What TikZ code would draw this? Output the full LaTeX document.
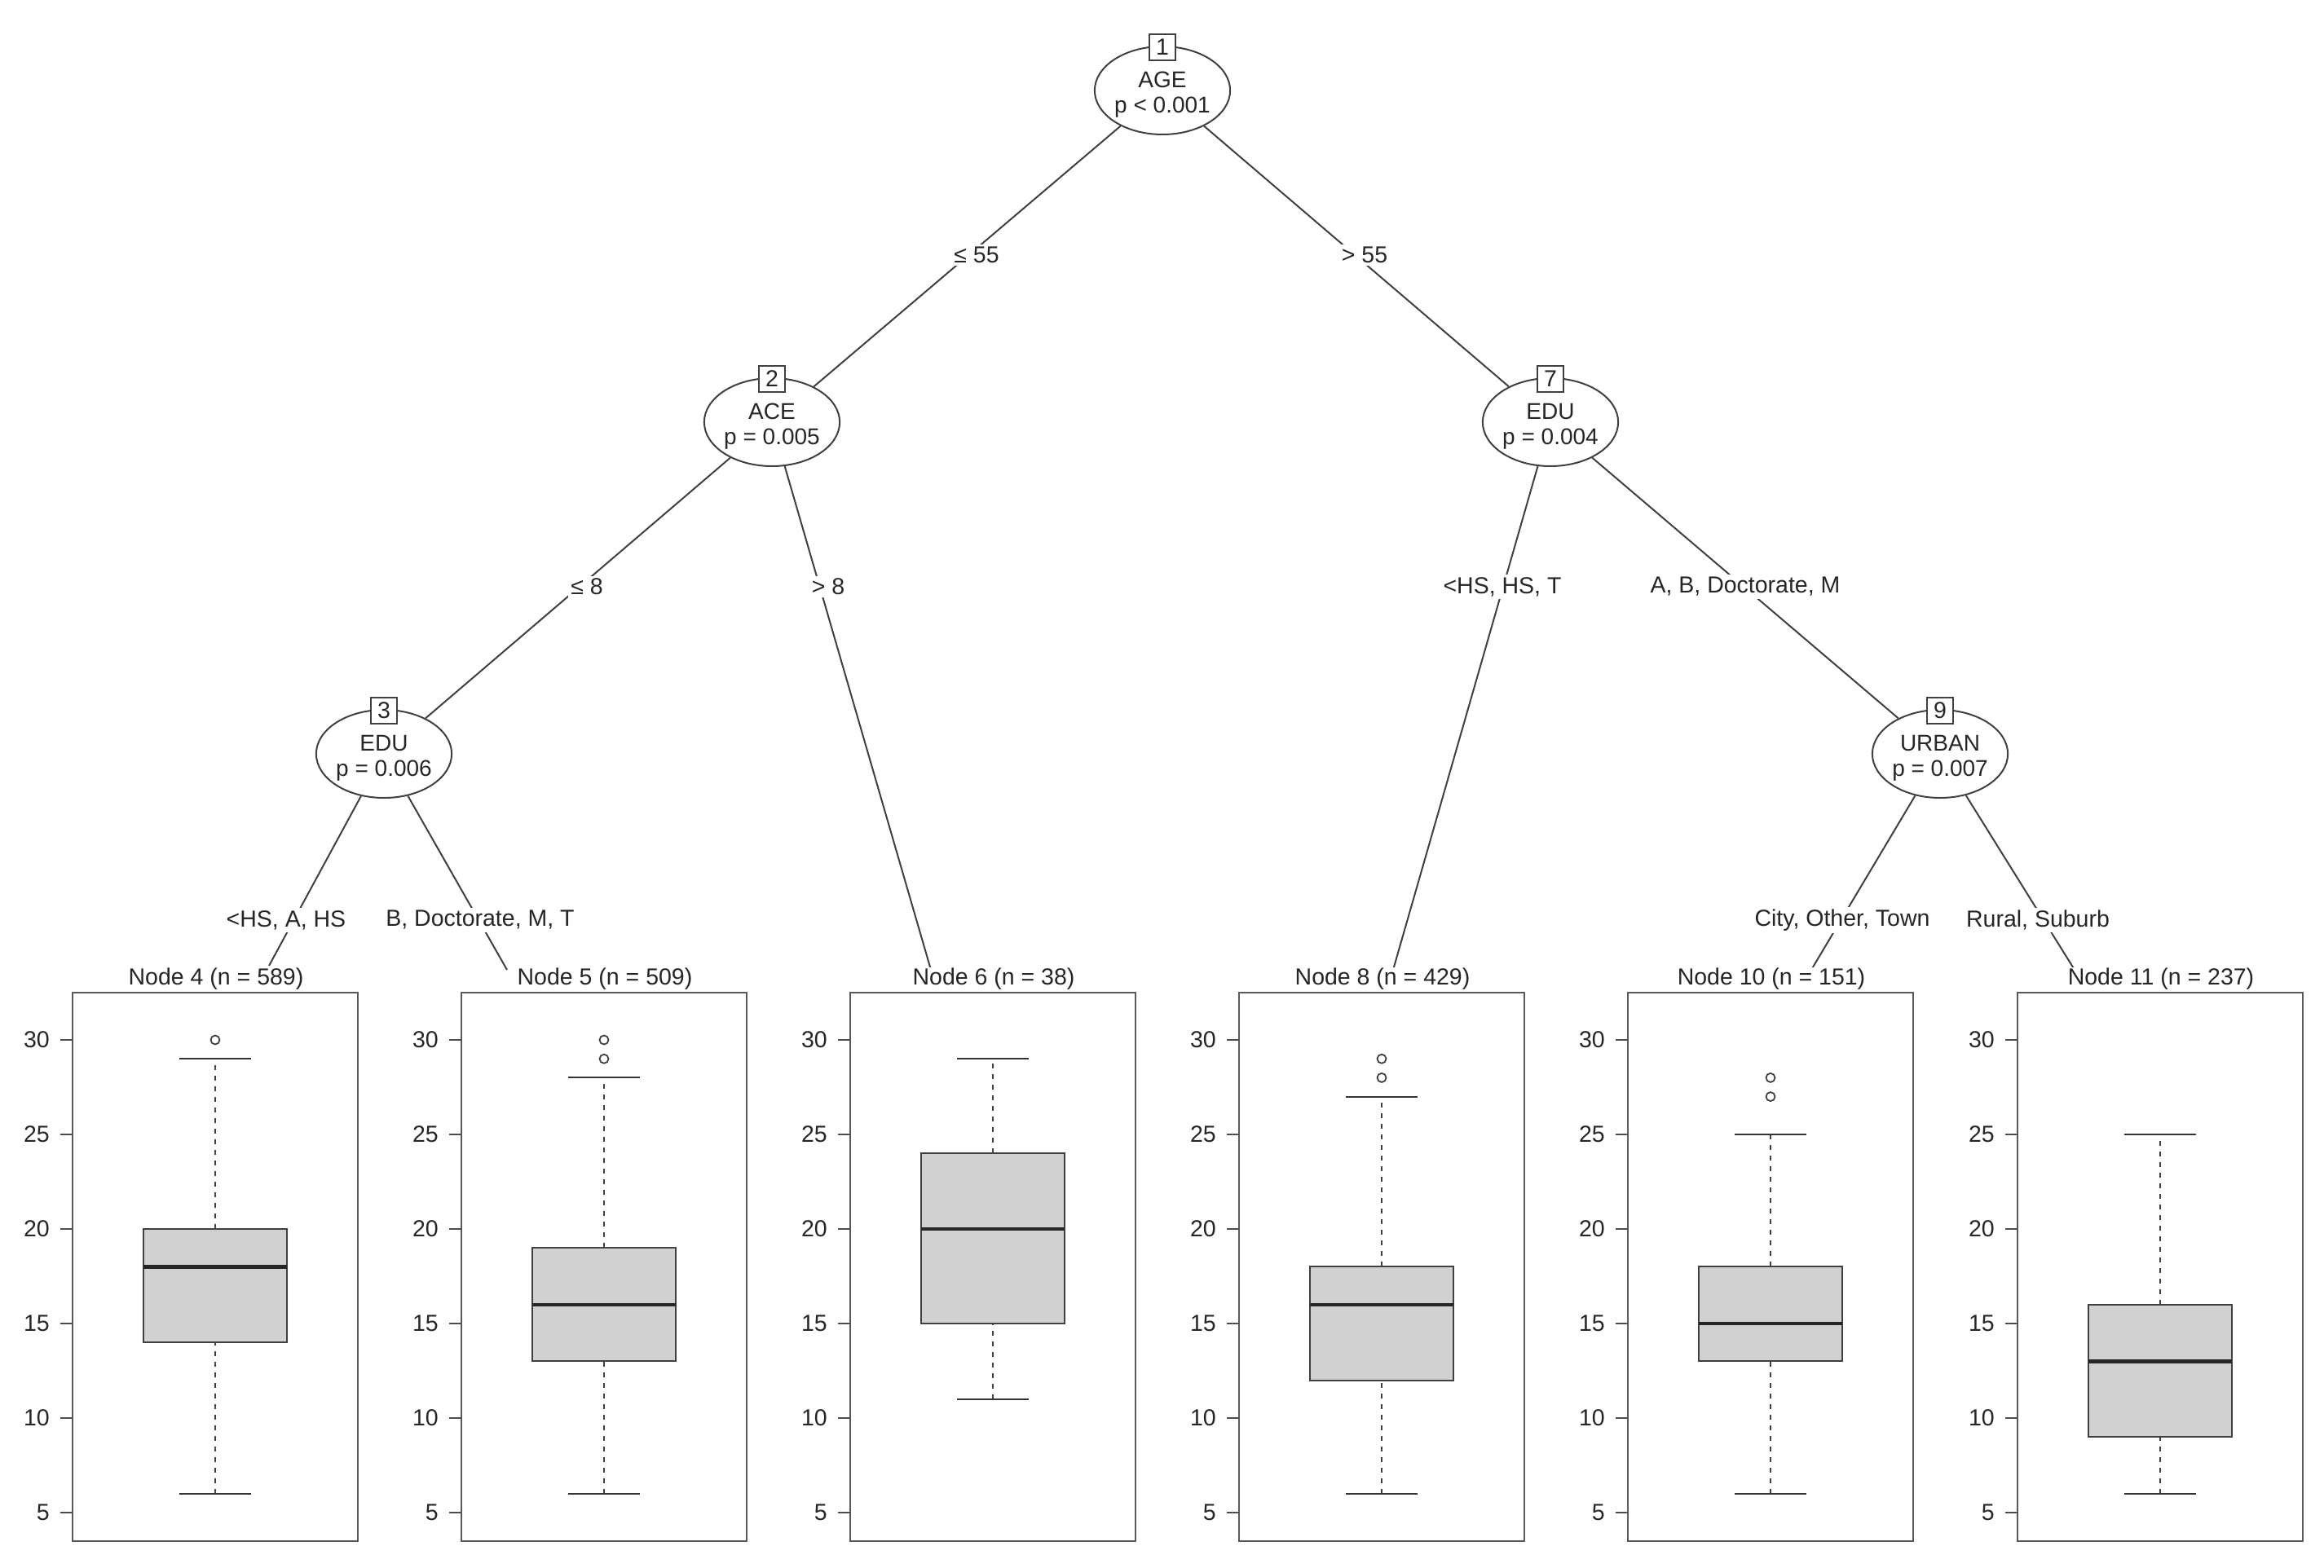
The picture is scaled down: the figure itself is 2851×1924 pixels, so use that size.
\documentclass[tikz,border=0pt]{standalone}
\usepackage{fontspec}
\setmainfont{Liberation Sans}
\usetikzlibrary{shapes.geometric}
\begin{document}
\begin{tikzpicture}[x=1pt,y=-1pt,
  every node/.style={font=\fontsize{28.5}{31}\selectfont, text=black!85},
  innernode/.style={draw=black!75, line width=2pt, ellipse, minimum width=155pt, minimum height=108pt, inner sep=0pt, align=center, font=\fontsize{28}{31}\selectfont},
  idbox/.style={draw=black!75, line width=1.8pt, fill=white, minimum size=32pt, inner sep=0pt},
  eline/.style={draw=black!75, line width=2pt},
  elab/.style={fill=white, inner sep=3pt},
  frame/.style={draw=black!65, line width=2.5pt},
  qbox/.style={draw=black!75, line width=2pt, fill=black!18},
  whisk/.style={draw=black!75, line width=2pt, dash pattern=on 6pt off 7pt},
  wcap/.style={draw=black!80, line width=2pt},
  tickline/.style={draw=black!70, line width=2pt}]
\useasboundingbox (0,0) rectangle (2851,1924);
% inner nodes
\node[innernode] (n1) at (1426,111) {\\[-2pt]AGE\\p < 0.001};
\node[innernode] (n2) at (947,518) {\\[-2pt]ACE\\p = 0.005};
\node[innernode] (n3) at (471,925) {\\[-2pt]EDU\\p = 0.006};
\node[innernode] (n7) at (1902,518) {\\[-2pt]EDU\\p = 0.004};
\node[innernode] (n9) at (2380,925) {\\[-2pt]URBAN\\p = 0.007};
\foreach \n/\t in {n1/1,n2/2,n3/3,n7/7,n9/9}
  \node[idbox] (id\t) at ([yshift=-2pt]\n.north) {\t};
% end coordinates
\coordinate (c4) at (330,1185);
\coordinate (c5) at (622,1190);
\coordinate (c6) at (1142,1190);
\coordinate (c8) at (1709,1190);
\coordinate (c10) at (2222,1190);
\coordinate (c11) at (2545,1190);
% edges
\draw[eline] (n1) -- (n2);
\draw[eline] (n1) -- (n7);
\draw[eline] (n2) -- (n3);
\draw[eline] (n2) -- (c6);
\draw[eline] (n7) -- (c8);
\draw[eline] (n7) -- (n9);
\draw[eline] (n3) -- (c4);
\draw[eline] (n3) -- (c5);
\draw[eline] (n9) -- (c10);
\draw[eline] (n9) -- (c11);
\node[elab] (l1) at (1198,313) {≤ 55};
\node[elab] (l2) at (1674,313) {> 55};
\node[elab] (l3) at (720,720) {≤ 8};
\node[elab] (l4) at (1016,720) {> 8};
\node[elab] (l5) at (1843,720) {<HS, HS, T};
\node[elab] (l6) at (2141,720) {A, B, Doctorate, M};
\node[elab] (l7) at (351,1129) {<HS, A, HS};
\node[elab] (l8) at (589,1129) {B, Doctorate, M, T};
\node[elab] (l9) at (2260,1129) {City, Other, Town};
\node[elab] (l10) at (2500,1129) {Rural, Suburb};
% panels
\newcommand\bpanel[9]{%
  \begin{scope}[xshift=#1pt]
  \node[fill=white, inner sep=1pt, anchor=south] (t#2) at (176,1216) {#3};
  \draw[frame] (0,1218) rectangle (350,1891);
  \foreach \v in {5,10,...,30} {
    \draw[tickline] (-15,{1856-(\v-5)*23.2}) -- (0,{1856-(\v-5)*23.2});
    \node[anchor=east, inner sep=0pt] at (-28,{1856-(\v-5)*23.2}) {\v};
  }
  \draw[whisk] (175,{1856-(#4-5)*23.2}) -- (175,{1856-(#5-5)*23.2});
  \draw[whisk] (175,{1856-(#7-5)*23.2}) -- (175,{1856-(#8-5)*23.2});
  \draw[wcap] (131,{1856-(#4-5)*23.2}) -- (219,{1856-(#4-5)*23.2});
  \draw[wcap] (131,{1856-(#8-5)*23.2}) -- (219,{1856-(#8-5)*23.2});
  \draw[qbox] (87,{1856-(#5-5)*23.2}) rectangle (263,{1856-(#7-5)*23.2});
  \draw[line width=4.5pt, black!85] (87,{1856-(#6-5)*23.2}) -- (263,{1856-(#6-5)*23.2});
  \foreach \o in {#9} {
    \draw[black!75, line width=1.8pt] (175,{1856-(\o-5)*23.2}) circle (5.5pt);
  }
  \end{scope}}
\bpanel{89}{4}{Node 4 (n = 589)}{6}{14}{18}{20}{29}{30}
\bpanel{566}{5}{Node 5 (n = 509)}{6}{13}{16}{19}{28}{29,30}
\bpanel{1043}{6}{Node 6 (n = 38)}{11}{15}{20}{24}{29}{200}
\bpanel{1520}{8}{Node 8 (n = 429)}{6}{12}{16}{18}{27}{28,29}
\bpanel{1997}{10}{Node 10 (n = 151)}{6}{13}{15}{18}{25}{27,28}
\bpanel{2475}{11}{Node 11 (n = 237)}{6}{9}{13}{16}{25}{200}
\end{tikzpicture}
\end{document}
